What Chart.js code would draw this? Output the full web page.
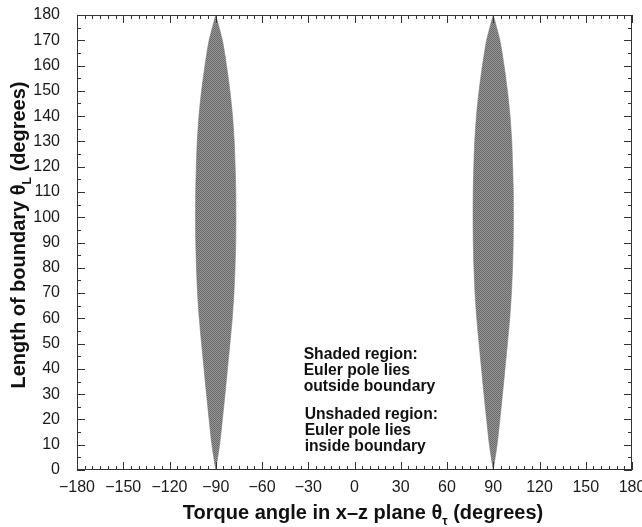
<!DOCTYPE html>
<html>
<head>
<meta charset="utf-8">
<script src="https://cdn.jsdelivr.net/npm/chart.js@4.4.1/dist/chart.umd.min.js"></script>
<style>
  html, body { margin: 0; padding: 0; background: #fff; }
  #wrap { width: 642px; height: 527px; }
</style>
</head>
<body>
<div id="wrap"><canvas id="chart" width="642" height="527"></canvas></div>
<script>
// length of boundary (y) and half-width of the shaded lens at that length, degrees
const lengthDeg = [0, 10, 20, 30, 40, 50, 60, 70, 80, 90, 100, 110, 120, 130, 140, 150, 160, 170, 180];
const halfWidth = [0, 2.5, 4.3, 6.0, 7.6, 9.2, 10.7, 11.8, 12.5, 12.95, 13.1, 13.0, 12.6, 12.0, 10.9, 9.2, 7.0, 4.3, 0];
const lensCenters = [-90, 90];
const shadedNote = ['Shaded region:', 'Euler pole lies', 'outside boundary'];
const unshadedNote = ['Unshaded region:', 'Euler pole lies', 'inside boundary'];

const FONT = '"Liberation Sans", Arial, Helvetica, sans-serif';
Chart.defaults.font.family = FONT;
Chart.defaults.color = '#1a1a1a';

// halftone-ish grey fill like the printed figure
function dotPattern() {
  const c = document.createElement('canvas');
  c.width = 2; c.height = 2;
  const g = c.getContext('2d');
  g.fillStyle = '#9a9a9a'; g.fillRect(0, 0, 2, 2);
  g.fillStyle = '#666666'; g.fillRect(0, 0, 1, 1); g.fillRect(1, 1, 1, 1);
  return g.createPattern(c, 'repeat');
}
const pattern = dotPattern();

// closed outline: up the left edge, back down the right edge
function lensPoints(cx) {
  const pts = lengthDeg.map((y, i) => ({ x: cx - halfWidth[i], y }));
  for (let i = lengthDeg.length - 1; i >= 0; i--) pts.push({ x: cx + halfWidth[i], y: lengthDeg[i] });
  return pts;
}

const datasets = lensCenters.map(cx => ({
  data: lensPoints(cx),
  showLine: true,
  fill: 'shape',
  backgroundColor: pattern,
  borderColor: '#7a7a7a',
  borderWidth: 0.6,
  pointRadius: 0,
  tension: 0.2
}));

const minus = v => String(v).replace('-', '\u2212');

// inward ticks on all four sides + frame
const frameTicks = {
  id: 'frameTicks',
  afterDatasetsDraw(chart) {
    const { ctx, chartArea: a, scales: { x, y } } = chart;
    ctx.save();
    ctx.strokeStyle = '#333';
    ctx.lineWidth = 1;
    ctx.strokeRect(a.left + 0.5, a.top + 0.5, a.right - a.left - 1, a.bottom - a.top - 1);
    ctx.beginPath();
    for (let v = x.min; v <= x.max; v += 5) {
      const px = Math.round(x.getPixelForValue(v)) + 0.5;
      const len = v % 30 === 0 ? 8 : 4;
      ctx.moveTo(px, a.bottom); ctx.lineTo(px, a.bottom - len);
      ctx.moveTo(px, a.top); ctx.lineTo(px, a.top + len);
    }
    for (let v = y.min; v <= y.max; v += 5) {
      const py = Math.round(y.getPixelForValue(v)) + 0.5;
      const len = v % 10 === 0 ? 8 : 4;
      ctx.moveTo(a.left, py); ctx.lineTo(a.left + len, py);
      ctx.moveTo(a.right, py); ctx.lineTo(a.right - len, py);
    }
    ctx.stroke();
    ctx.restore();
  }
};

// text run with subscript pieces: [[text, isSub], ...]
function drawRuns(ctx, runs, size) {
  const main = 'bold ' + size + 'px ' + FONT;
  const sub = 'bold ' + Math.round(size * 0.62) + 'px ' + FONT;
  let w = 0;
  runs.forEach(([t, s]) => { ctx.font = s ? sub : main; w += ctx.measureText(t).width; });
  let cx = -w / 2;
  runs.forEach(([t, s]) => {
    ctx.font = s ? sub : main;
    ctx.fillText(t, cx, s ? size * 0.3 : 0);
    cx += ctx.measureText(t).width;
  });
}

const labels = {
  id: 'labels',
  afterDraw(chart) {
    const { ctx, scales: { x, y } } = chart;
    ctx.save();
    ctx.fillStyle = '#111';
    ctx.textBaseline = 'alphabetic';
    // x title
    ctx.save();
    ctx.translate(363, 519);
    drawRuns(ctx, [['Torque angle in x\u2013z plane \u03b8', false], ['\u03c4', true], [' (degrees)', false]], 20);
    ctx.restore();
    // y title
    ctx.save();
    ctx.translate(25, 235);
    ctx.rotate(-Math.PI / 2);
    drawRuns(ctx, [['Length of boundary \u03b8', false], ['L', true], [' (degrees)', false]], 20);
    ctx.restore();
    // notes
    ctx.font = 'bold 15.7px ' + FONT;
    ctx.textBaseline = 'middle';
    const nx = x.getPixelForValue(-33);
    const ny = y.getPixelForValue(45.5);
    shadedNote.forEach((t, i) => ctx.fillText(t, nx, ny + i * 16));
    unshadedNote.forEach((t, i) => ctx.fillText(t, nx + 1, ny + 60 + i * 16));
    ctx.restore();
  }
};

new Chart(document.getElementById('chart'), {
  type: 'scatter',
  data: { datasets },
  options: {
    responsive: false,
    devicePixelRatio: 1,
    animation: false,
    layout: { padding: { left: 0, right: 10, top: 15, bottom: 0 } },
    plugins: { legend: { display: false }, tooltip: { enabled: false } },
    scales: {
      x: {
        type: 'linear', min: -180, max: 180,
        grid: { display: false, drawTicks: false },
        border: { display: false },
        ticks: { stepSize: 30, padding: 8, font: { size: 16 }, color: '#1a1a1a', callback: v => minus(v) },
        afterFit(s) { s.height = 57; s.paddingLeft = 0; s.paddingRight = 0; }
      },
      y: {
        type: 'linear', min: 0, max: 180,
        grid: { display: false, drawTicks: false },
        border: { display: false },
        ticks: { stepSize: 10, padding: 17, font: { size: 16 }, color: '#1a1a1a' },
        afterFit(s) { s.width = 77; s.paddingTop = 0; s.paddingBottom = 0; }
      }
    }
  },
  plugins: [frameTicks, labels]
});
</script>
</body>
</html>
